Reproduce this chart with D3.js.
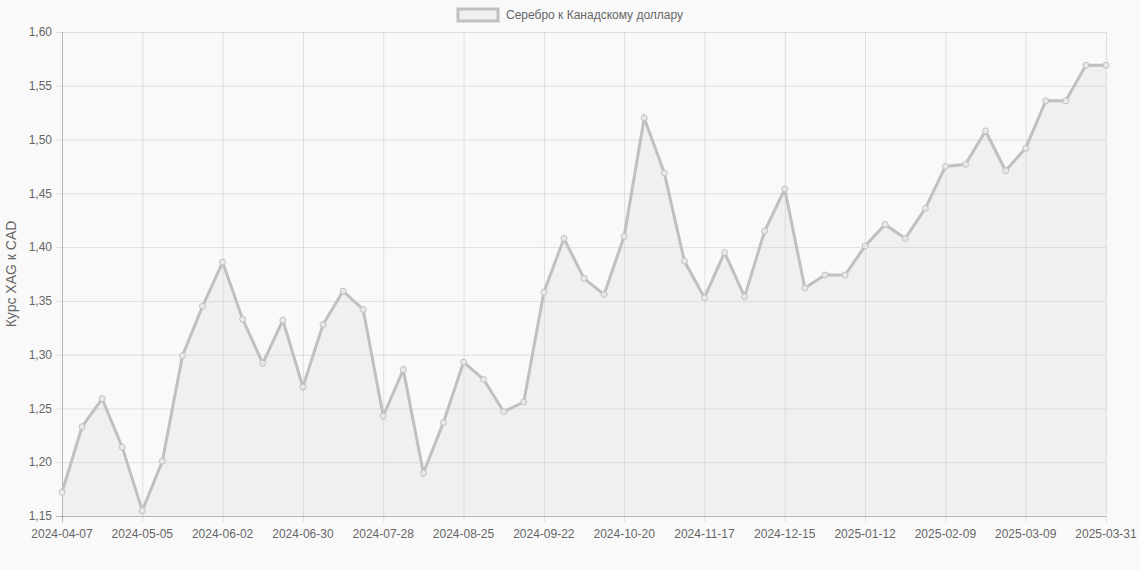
<!DOCTYPE html>
<html><head><meta charset="utf-8">
<script src="https://cdn.jsdelivr.net/npm/d3@7"></script>
<style>
html,body{margin:0;padding:0;background:#f9f9f9;}
svg{display:block;font-family:"Liberation Sans",Arial,Helvetica,sans-serif;}
</style></head>
<body><svg id="c" width="1140" height="570"></svg>
<script>
const dates = ["2024-04-07","2024-04-14","2024-04-21","2024-04-28","2024-05-05","2024-05-12","2024-05-19","2024-05-26",
"2024-06-02","2024-06-09","2024-06-16","2024-06-23","2024-06-30","2024-07-07","2024-07-14","2024-07-21",
"2024-07-28","2024-08-04","2024-08-11","2024-08-18","2024-08-25","2024-09-01","2024-09-08","2024-09-15",
"2024-09-22","2024-09-29","2024-10-06","2024-10-13","2024-10-20","2024-10-27","2024-11-03","2024-11-10",
"2024-11-17","2024-11-24","2024-12-01","2024-12-08","2024-12-15","2024-12-22","2024-12-29","2025-01-05",
"2025-01-12","2025-01-19","2025-01-26","2025-02-02","2025-02-09","2025-02-16","2025-02-23","2025-03-02",
"2025-03-09","2025-03-16","2025-03-23","2025-03-30","2025-03-31"];
const values = [1.172,1.233,1.259,1.214,1.155,1.201,1.299,1.345,
1.386,1.333,1.292,1.332,1.270,1.328,1.359,1.342,
1.243,1.286,1.190,1.237,1.293,1.277,1.247,1.256,
1.358,1.408,1.371,1.356,1.410,1.520,1.469,1.387,
1.353,1.395,1.354,1.415,1.454,1.362,1.374,1.374,
1.401,1.421,1.408,1.436,1.475,1.477,1.508,1.471,
1.492,1.536,1.536,1.569,1.569];
const yTicks = [1.15,1.20,1.25,1.30,1.35,1.40,1.45,1.50,1.55,1.60];
const xTickLabels = ["2024-04-07","2024-05-05","2024-06-02","2024-06-30","2024-07-28","2024-08-25","2024-09-22",
"2024-10-20","2024-11-17","2024-12-15","2025-01-12","2025-02-09","2025-03-09","2025-03-31"];
const seriesName = "Серебро к Канадскому доллару";
const yTitle = "Курс XAG к CAD";

const svg = d3.select("#c");
const L = 62, R = 1106, T = 32, B = 516;
const x = d3.scalePoint().domain(dates).range([L, R]);
const y = d3.scaleLinear().domain([1.15, 1.60]).range([B, T]);
const fmt = v => d3.format(".2f")(v).replace(".", ",");
const grid = "rgba(0,0,0,0.1)";
const txt = "#666";

// grid
const g = svg.append("g");
g.selectAll(".hg").data(yTicks).enter().append("line")
  .attr("x1", L - 6).attr("x2", R).attr("y1", d => y(d) + 0.5).attr("y2", d => y(d) + 0.5)
  .attr("stroke", grid).attr("stroke-width", 1);
g.selectAll(".vg").data(xTickLabels).enter().append("line")
  .attr("x1", d => x(d) + 0.5).attr("x2", d => x(d) + 0.5).attr("y1", T).attr("y2", B + 6)
  .attr("stroke", grid).attr("stroke-width", 1);
g.append("line").attr("x1", L + 0.5).attr("x2", L + 0.5).attr("y1", T).attr("y2", B + 6).attr("stroke", "rgba(0,0,0,0.18)");
g.append("line").attr("x1", L - 6).attr("x2", R).attr("y1", B + 0.5).attr("y2", B + 0.5).attr("stroke", "rgba(0,0,0,0.18)");

// area + line
const area = d3.area().x((d, i) => x(dates[i])).y0(B).y1(d => y(d));
svg.append("path").datum(values).attr("d", area).attr("fill", "rgba(192,192,192,0.14)");
const line = d3.line().x((d, i) => x(dates[i])).y(d => y(d));
svg.append("path").datum(values).attr("d", line).attr("fill", "none")
  .attr("stroke", "rgb(192,192,192)").attr("stroke-width", 3).attr("stroke-linejoin", "miter");
svg.selectAll(".pt").data(values).enter().append("circle")
  .attr("cx", (d, i) => x(dates[i])).attr("cy", d => y(d)).attr("r", 3)
  .attr("fill", "rgba(235,235,235,0.9)").attr("stroke", "rgb(192,192,192)").attr("stroke-width", 1);

// y tick labels
svg.selectAll(".yl").data(yTicks).enter().append("text")
  .attr("x", L - 10).attr("y", d => y(d)).attr("dy", "0.35em").attr("text-anchor", "end")
  .attr("font-size", 12).attr("fill", txt).text(d => fmt(d));
// x tick labels
svg.selectAll(".xl").data(xTickLabels).enter().append("text")
  .attr("x", d => x(d)).attr("y", B + 22).attr("text-anchor", "middle")
  .attr("font-size", 12).attr("fill", txt).text(d => d);
// y title
svg.append("text").attr("transform", `translate(16,${(T + B) / 2}) rotate(-90)`)
  .attr("text-anchor", "middle").attr("font-size", 14).attr("fill", txt).text(yTitle);

// legend
const lg = svg.append("g");
const lx = 458, bw = 40, gap = 8;
lg.append("rect").attr("x", lx).attr("y", 9).attr("width", bw).attr("height", 12)
  .attr("fill", "rgba(192,192,192,0.14)").attr("stroke", "rgb(192,192,192)").attr("stroke-width", 3);
lg.append("text").attr("x", lx + bw + gap).attr("y", 15).attr("dy", "0.35em")
  .attr("font-size", 12).attr("fill", txt).text(seriesName);
</script></body></html>
